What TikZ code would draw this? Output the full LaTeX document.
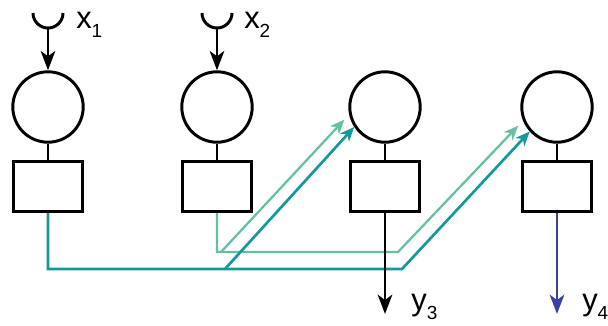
\documentclass[tikz,border=0pt]{standalone}
\usepackage{fontspec}
\setmainfont{Liberation Sans}
\usetikzlibrary{arrows.meta}
\definecolor{tealosc}{RGB}{20,152,155}
\definecolor{verdecl}{RGB}{100,192,158}
\definecolor{azulsal}{RGB}{58,64,158}
\newcommand{\subind}[1]{\raisebox{-7pt}{\fontsize{13.5}{15}\selectfont #1}}
\tikzset{
  neurona/.style={circle,draw,line width=2.1pt,minimum size=1.76cm,inner sep=0pt},
  caja/.style={rectangle,draw,line width=2.1pt,minimum width=1.73cm,minimum height=1.26cm,inner sep=0pt},
  linea/.style={line width=2.1pt},
  flecha/.style={line width=2.1pt,-{Stealth[length=4.8mm,width=3.6mm,inset=1.3mm]}},
  conexion/.style={line width=1.9pt,-{Stealth[length=3.6mm,width=3mm,inset=1.1mm]}},
  etiqueta/.style={inner sep=0pt,anchor=base west,font=\fontsize{22}{26}\selectfont}
}
\begin{document}
\begin{tikzpicture}[x=0.025cm,y=-0.025cm]
    \useasboundingbox (0,0) rectangle (608,325);

    % neuronas y cajas
    \foreach \i/\x in {1/48,2/217,3/385,4/557}{
      \node[neurona] (c\i) at (\x,107) {};
      \node[caja] (b\i) at (\x,186.5) {};
      \draw[linea] (c\i.south) -- (b\i.north);
    }

    % entradas
    \foreach \i/\x in {1/48,2/217}{
      \coordinate (e\i) at (\x,28);
      \draw[linea] (e\i) ++(-15,-15) arc[start angle=180,end angle=0,radius=15];
      \draw[flecha] (e\i) -- (c\i.north);
    }
    \node[etiqueta] (x1) at (76,28) {x\subind{1}};
    \node[etiqueta] (x2) at (244,28) {x\subind{2}};

    % conexiones verde claro
    \coordinate (l1) at (221,252);
    \coordinate (l2) at (398,252);
    \draw[conexion,verdecl,line width=1.6pt,shorten >=5pt] (b2.south) |- (l2) -- (c4.202);
    \draw[conexion,verdecl,line width=1.6pt,shorten >=5pt] (l1) -- (c3.192);

    % conexiones teal
    \coordinate (d1) at (225,269);
    \coordinate (d2) at (402,269);
    \draw[conexion,tealosc] (b1.south) |- (d2) -- (c4.222);
    \draw[conexion,tealosc] (d1) -- (c3.213);

    % salidas
    \coordinate (s3) at (385,314);
    \coordinate (s4) at (557,314);
    \draw[flecha] (b3.south) -- (s3);
    \draw[flecha,azulsal] (b4.south) -- (s4);
    \node[etiqueta] (y3) at (411,310) {y\subind{3}};
    \node[etiqueta] (y4) at (582,310) {y\subind{4}};
\end{tikzpicture}
\end{document}
